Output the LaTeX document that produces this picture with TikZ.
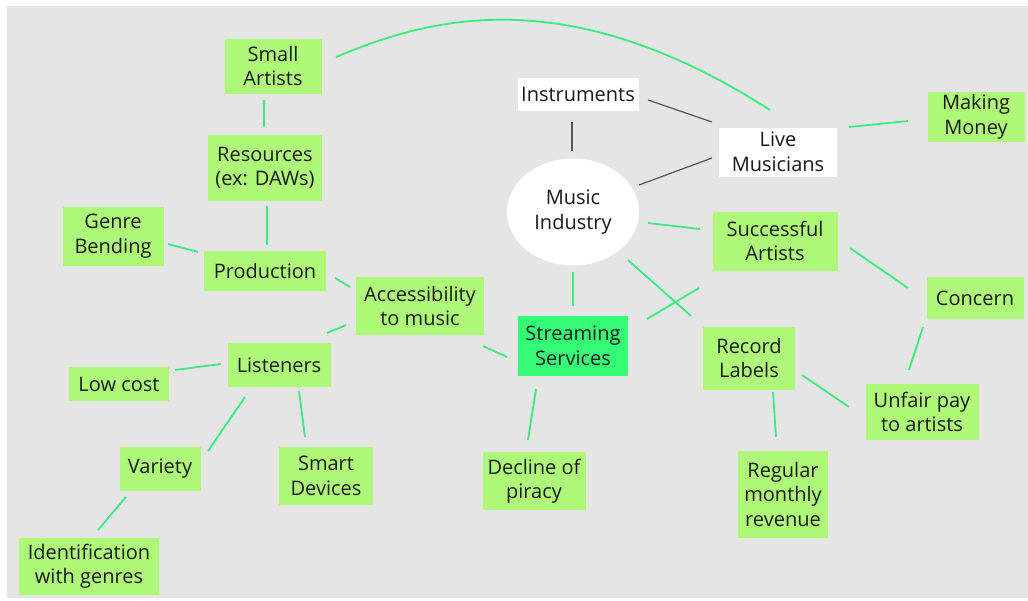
\documentclass[tikz,border=0pt]{standalone}
\usepackage{fontspec}
\setmainfont{Open Sans}
\usetikzlibrary{calc,shapes.geometric}

\definecolor{canvas}{RGB}{229,229,229}
\definecolor{boxgreen}{RGB}{174,250,120}
\definecolor{streamgreen}{RGB}{52,252,118}
\definecolor{linkgreen}{RGB}{60,236,125}
\definecolor{linkgray}{RGB}{85,85,85}
\definecolor{ink}{RGB}{25,25,25}

\tikzset{
  topic/.style={fill=boxgreen, inner sep=0pt, align=center, text=ink,
    font=\fontsize{20}{24.5}\selectfont},
  plain/.style={topic, fill=white},
  hub/.style={ellipse, fill=white, inner sep=0pt, align=center, text=ink,
    minimum width=132pt, minimum height=107pt,
    font=\fontsize{20}{24.5}\selectfont},
  link/.style={draw=linkgreen, line width=1.8pt},
  graylink/.style={draw=linkgray, line width=1.2pt},
}

\begin{document}
\begin{tikzpicture}[x=1pt, y=-1pt]
  \useasboundingbox (0,0) rectangle (1028,600);
  \fill[white] (0,0) rectangle (1028,600);
  \fill[canvas] (7,6) rectangle (1028,598);

  % left branch
  \node[topic, minimum width=97pt, minimum height=55pt] (small) at (273,66) {Small\\Artists};
  \node[topic, minimum width=114pt, minimum height=66pt] (res) at (265,168) {Resources\\(ex: DAWs)};
  \node[topic, minimum width=101pt, minimum height=59pt] (genre) at (113,236) {Genre\\Bending};
  \node[topic, minimum width=122pt, minimum height=40pt] (prod) at (265,271) {Production};
  \node[topic, minimum width=128pt, minimum height=58pt] (acc) at (420,306) {Accessibility\\to music};
  \node[topic, minimum width=103pt, minimum height=44pt] (list) at (279,365) {Listeners};
  \node[topic, minimum width=100pt, minimum height=34pt] (low) at (119,384) {Low cost};
  \node[topic, minimum width=81pt, minimum height=44pt] (var) at (160,469) {Variety};
  \node[topic, minimum width=94pt, minimum height=58pt] (smart) at (326,476) {Smart\\Devices};
  \node[topic, minimum width=140pt, minimum height=57pt] (ident) at (89,566) {Identification\\with genres};

  % centre and right branch
  \node[plain, minimum width=121pt, minimum height=33pt] (instr) at (578,94) {Instruments};
  \node[hub] (mi) at (573,212) {Music\\Industry};
  \node[plain, minimum width=118pt, minimum height=49pt] (live) at (778,152) {Live\\Musicians};
  \node[topic, minimum width=97pt, minimum height=50pt] (money) at (976,117) {Making\\Money};
  \node[topic, minimum width=125pt, minimum height=59pt] (succ) at (775,241) {Successful\\Artists};
  \node[topic, minimum width=97pt, minimum height=42pt] (concern) at (975,298) {Concern};
  \node[topic, fill=streamgreen, minimum width=110pt, minimum height=60pt] (stream) at (573,346) {Streaming\\Services};
  \node[topic, minimum width=92pt, minimum height=63pt] (rec) at (749,358) {Record\\Labels};
  \node[topic, minimum width=113pt, minimum height=56pt] (unfair) at (922,412) {Unfair pay\\to artists};
  \node[topic, minimum width=103pt, minimum height=58pt] (decl) at (534,481) {Decline of\\piracy};
  \node[topic, minimum width=90pt, minimum height=87pt] (reg) at (783,494) {Regular\\monthly\\revenue};

  % green connectors
  \draw[link] ($(small)+(-9,34)$) -- ($(res)+(-1,-41)$);
  \draw[link] ($(res)+(2,38)$) -- ($(prod)+(2,-26)$);
  \draw[link] ($(genre)+(55,8)$) -- ($(prod)+(-67,-19)$);
  \draw[link] ($(prod)+(70,7)$) -- ($(acc)+(-70,-19)$);
  \draw[link] ($(acc)+(-74,19)$) -- ($(list)+(48,-32)$);
  \draw[link] ($(acc)+(63,40)$) -- ($(stream)+(-66,11)$);
  \draw[link] ($(list)+(-58,-1)$) -- ($(low)+(56,-14)$);
  \draw[link] ($(list)+(-34,32)$) -- ($(var)+(48,-18)$);
  \draw[link] ($(list)+(20,26)$) -- ($(smart)+(-21,-39)$);
  \draw[link] ($(var)+(-34,28)$) -- ($(ident)+(9,-36)$);
  \draw[link] ($(small)+(63,-9)$) .. controls +(84,-35) and +(-210,-135) .. ($(live)+(-8,-42)$);
  \draw[link] ($(live)+(71,-25)$) -- ($(money)+(-68,4)$);
  \draw[link] ($(mi)+(75,11)$) -- ($(succ)+(-75,-12)$);
  \draw[link] ($(mi)+(0,60)$) -- ($(stream)+(0,-40)$);
  \draw[link] ($(mi)+(55,48)$) -- ($(rec)+(-58,-42)$);
  \draw[link] ($(succ)+(-76,47)$) -- ($(stream)+(74,-27)$);
  \draw[link] ($(succ)+(75,7)$) -- ($(concern)+(-67,-10)$);
  \draw[link] ($(concern)+(-52,29)$) -- ($(unfair)+(-13,-42)$);
  \draw[link] ($(rec)+(53,17)$) -- ($(unfair)+(-73,-5)$);
  \draw[link] ($(rec)+(24,34)$) -- ($(reg)+(-7,-57)$);
  \draw[link] ($(stream)+(-37,43)$) -- ($(decl)+(-6,-41)$);

  % gray connectors
  \draw[graylink] ($(instr)+(-6,28)$) -- ($(mi)+(-1,-61)$);
  \draw[graylink] ($(instr)+(70,6)$) -- ($(live)+(-66,-30)$);
  \draw[graylink] ($(mi)+(66,-27)$) -- ($(live)+(-66,6)$);
\end{tikzpicture}
\end{document}
